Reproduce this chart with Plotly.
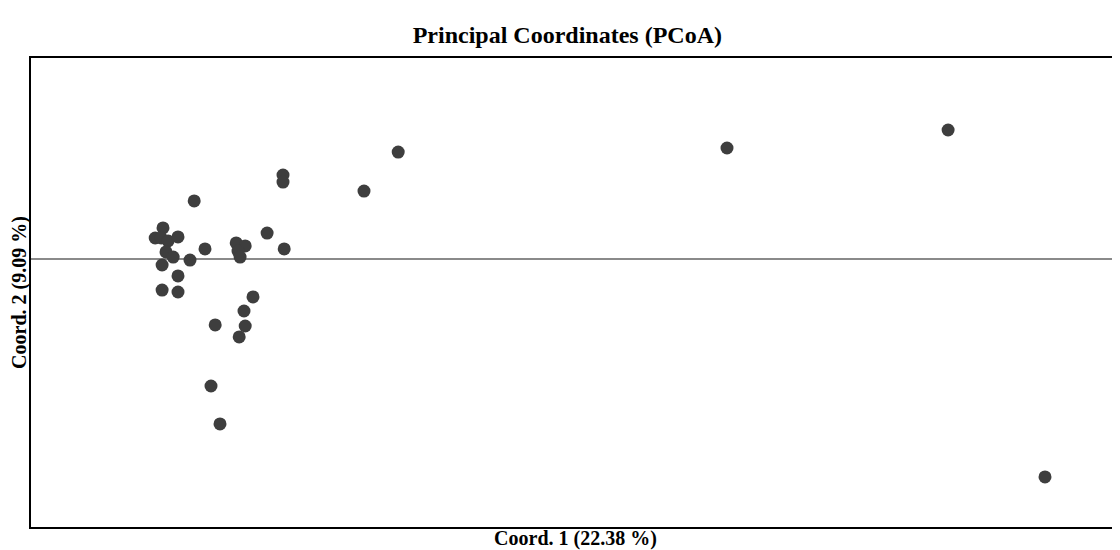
import plotly.graph_objects as go

# PCoA coordinates
coord1 = [-0.353, -0.057, -0.057, 0.213, 0.327, 1.423, 2.160, 2.483,
          -0.483, -0.457, -0.463, -0.440, -0.407, -0.447, -0.423, -0.460,
          -0.407, -0.460, -0.407, -0.367, -0.317, -0.213, -0.183, -0.207,
          -0.200, -0.110, -0.053, -0.157, -0.187, -0.183, -0.203, -0.283,
          -0.297, -0.267]
coord2 = [0.387, 0.560, 0.513, 0.453, 0.713, 0.740, 0.860, -1.453,
          0.140, 0.207, 0.140, 0.120, 0.147, 0.047, 0.013, -0.040,
          -0.113, -0.207, -0.220, -0.007, 0.067, 0.107, 0.087, 0.053,
          0.013, 0.173, 0.067, -0.253, -0.347, -0.447, -0.520, -0.440,
          -0.847, -1.100]

title_text = "Principal Coordinates (PCoA)"
x_label = "Coord. 1 (22.38 %)"
y_label = "Coord. 2 (9.09 %)"

serif = "Liberation Serif, Times New Roman, serif"

fig = go.Figure(go.Scatter(
    x=coord1, y=coord2, mode="markers",
    marker=dict(size=13, color="#3e3e3e", line=dict(width=0)),
    hoverinfo="x+y", showlegend=False,
))

fig.update_layout(
    width=1112, height=542,
    paper_bgcolor="white", plot_bgcolor="white",
    margin=dict(l=23, r=0, t=50, b=23, pad=0),
    title=dict(text=title_text, x=0.503, xanchor="center", y=0.951, yanchor="middle",
               font=dict(family=serif, size=24, color="black", weight="bold")),
    font=dict(family=serif, color="black"),
)
fig.update_xaxes(
    range=[-0.897, 2.733], showgrid=False, zeroline=False,
    showticklabels=False, ticks="", automargin=False,
    showline=True, mirror=True, linecolor="black", linewidth=2,
    title=dict(text=x_label, standoff=4, font=dict(family=serif, size=20, weight="bold")),
)
fig.update_yaxes(
    range=[-1.787, 1.340], showgrid=False, automargin=False,
    zeroline=True, zerolinecolor="#8a8a8a", zerolinewidth=1.5,
    showticklabels=False, ticks="",
    showline=True, mirror=False, linecolor="black", linewidth=2,
    title=dict(text=y_label, standoff=3, font=dict(family=serif, size=20, weight="bold")),
)

fig.write_html("out.html")
